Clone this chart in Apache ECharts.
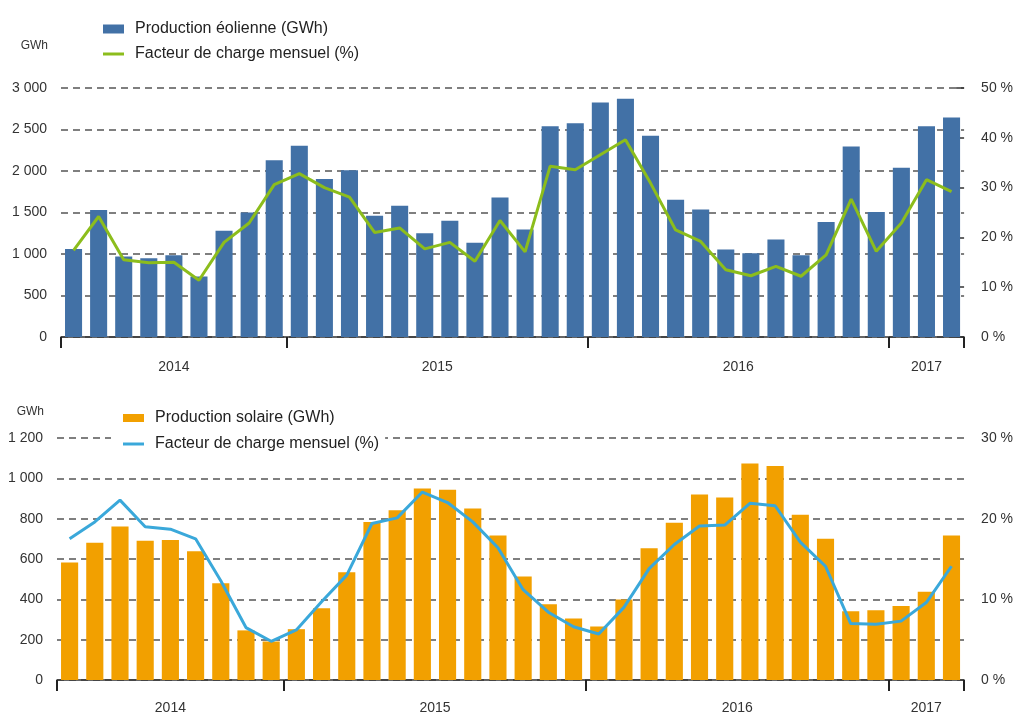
<!DOCTYPE html>
<html>
<head>
<meta charset="utf-8">
<script src="https://cdn.jsdelivr.net/npm/echarts@6/dist/echarts.min.js"></script>
<style>
  html, body { margin: 0; padding: 0; background: #fff; }
  #main { width: 1016px; height: 715px; }
</style>
</head>
<body>
<div id="main"></div>
<script>
// mois d'avril 2014 à mars 2017
var months = [
  'avr. 2014', 'mai 2014', 'juin 2014', 'juil. 2014', 'août 2014', 'sept. 2014', 'oct. 2014', 'nov. 2014', 'déc. 2014',
  'janv. 2015', 'févr. 2015', 'mars 2015', 'avr. 2015', 'mai 2015', 'juin 2015', 'juil. 2015', 'août 2015', 'sept. 2015', 'oct. 2015', 'nov. 2015', 'déc. 2015',
  'janv. 2016', 'févr. 2016', 'mars 2016', 'avr. 2016', 'mai 2016', 'juin 2016', 'juil. 2016', 'août 2016', 'sept. 2016', 'oct. 2016', 'nov. 2016', 'déc. 2016',
  'janv. 2017', 'févr. 2017', 'mars 2017'
];
var years = ['2014', '2015', '2016', '2017'];
var monthsPerYear = [9, 12, 12, 3];

// production éolienne (GWh) et facteur de charge (%)
var windProd = [1060, 1530, 970, 950, 985, 730, 1280, 1500, 2130, 2305, 1905, 2010,
  1460, 1580, 1250, 1400, 1135, 1680, 1295, 2540, 2575, 2825, 2870, 2425,
  1655, 1535, 1055, 1010, 1175, 985, 1385, 2295, 1505, 2040, 2540, 2645];
var windLoad = [17.4, 24.2, 15.5, 14.9, 15.0, 11.4, 19.0, 22.9, 30.6, 32.8, 30.0, 28.1,
  21.0, 21.9, 17.7, 19.0, 15.2, 23.4, 17.1, 34.3, 33.6, 36.6, 39.6, 30.9,
  21.5, 19.2, 13.5, 12.3, 14.2, 12.2, 16.5, 27.7, 17.2, 22.9, 31.6, 29.2];

// production solaire (GWh) et facteur de charge (%)
var solarProd = [583, 681, 761, 690, 694, 638, 480, 246, 191, 252, 356, 534,
  783, 842, 949, 944, 850, 717, 513, 376, 305, 265, 399, 653,
  780, 920, 905, 1073, 1061, 819, 700, 341, 346, 367, 438, 717];
var solarLoad = [17.5, 19.6, 22.3, 19.0, 18.7, 17.5, 12.3, 6.5, 4.8, 6.2, 9.7, 13.0,
  19.4, 20.1, 23.3, 22.0, 19.6, 16.4, 11.2, 8.4, 6.6, 5.7, 9.0, 13.8,
  16.8, 19.1, 19.2, 21.9, 21.6, 17.1, 14.1, 7.0, 6.9, 7.3, 9.6, 14.1];

var legendNames = {
  windBar: 'Production éolienne (GWh)',
  windLine: 'Facteur de charge mensuel (%)',
  solarBar: 'Production solaire (GWh)',
  solarLine: 'Facteur de charge mensuel (%)'
};

// limites des années et milieux pour les libellés
var yearBounds = [0];
var yearMids = [];
for (var i = 0; i < monthsPerYear.length; i++) {
  var start = yearBounds[yearBounds.length - 1];
  yearMids.push(start + monthsPerYear[i] / 2);
  yearBounds.push(start + monthsPerYear[i]);
}

var FONT = 'Liberation Sans';
var TXT = '#333';
var LINE_ICON = 'path://M0 0H21V3H0Z';

function gwh(v) {
  if (v >= 1000) {
    var r = String(v % 1000);
    while (r.length < 3) r = '0' + r;
    return Math.floor(v / 1000) + ' ' + r;
  }
  return String(v);
}

function catAxis(g) {
  return {
    type: 'category',
    gridIndex: g,
    position: 'bottom',
    data: months,
    axisLine: { lineStyle: { color: '#333', width: 1.5 } },
    axisTick: { interval: 0, length: 7, lineStyle: { color: '#333', width: 1.2 } },
    axisLabel: { show: false },
    splitLine: { show: false }
  };
}

function yearAxis(g, margin) {
  return {
    type: 'value',
    gridIndex: g,
    position: 'bottom',
    min: 0,
    max: months.length,
    axisLine: { show: false },
    splitLine: { show: false },
    axisTick: {
      show: true,
      customValues: yearBounds,
      length: 11,
      lineStyle: { color: '#222', width: 2 }
    },
    axisLabel: {
      customValues: yearMids,
      margin: margin,
      fontFamily: FONT,
      fontSize: 14,
      color: TXT,
      formatter: function (v) {
        var k = yearMids.indexOf(v);
        return k >= 0 ? years[k] : '';
      }
    }
  };
}

function leftAxis(g, max, interval, nameGap) {
  return {
    type: 'value',
    gridIndex: g,
    position: 'left',
    min: 0,
    max: max,
    interval: interval,
    name: 'GWh',
    nameLocation: 'end',
    nameGap: nameGap,
    nameTextStyle: { fontFamily: FONT, fontSize: 12, color: TXT, align: 'right', padding: [0, 13, 0, 0] },
    axisLine: { show: false },
    axisTick: { show: false },
    axisLabel: { margin: 14, fontFamily: FONT, fontSize: 14, color: TXT, formatter: gwh },
    splitLine: { lineStyle: { color: '#555', width: 1.5, type: [7, 5] } }
  };
}

function rightAxis(g, max, ticks) {
  return {
    type: 'value',
    gridIndex: g,
    position: 'right',
    min: 0,
    max: max,
    interval: 10,
    axisLine: { show: false },
    axisTick: { show: ticks, inside: true, length: 8, lineStyle: { color: '#333', width: 1.5 } },
    axisLabel: {
      margin: 17,
      fontFamily: FONT,
      fontSize: 14,
      color: TXT,
      formatter: function (v) { return v + ' %'; }
    },
    splitLine: { show: false }
  };
}

var myChart = echarts.init(document.getElementById('main'));

var option = {
  backgroundColor: '#fff',
  animation: false,
  grid: [
    { left: 61, right: 48, top: 88, height: 249 },
    { left: 57, right: 49, top: 438, height: 243 }
  ],
  legend: [
    {
      orient: 'vertical',
      left: 103,
      top: 21,
      padding: 0,
      itemWidth: 21,
      itemHeight: 9,
      itemGap: 9,
      data: [
        { name: 'windBar', icon: 'rect' },
        { name: 'windLine', icon: LINE_ICON }
      ],
      formatter: function (n) { return legendNames[n]; },
      textStyle: { fontFamily: FONT, fontSize: 16, lineHeight: 16, color: '#222', padding: [0, 0, 0, 6] }
    },
    {
      orient: 'vertical',
      left: 111,
      top: 406,
      padding: [4, 6, 4, 12],
      backgroundColor: '#fff',
      itemWidth: 21,
      itemHeight: 8,
      itemGap: 10,
      data: [
        { name: 'solarBar', icon: 'rect' },
        { name: 'solarLine', icon: LINE_ICON }
      ],
      formatter: function (n) { return legendNames[n]; },
      textStyle: { fontFamily: FONT, fontSize: 16, lineHeight: 16, color: '#222', padding: [0, 0, 0, 6] }
    }
  ],
  xAxis: [catAxis(0), yearAxis(0, 23), catAxis(1), yearAxis(1, 21)],
  yAxis: [
    leftAxis(0, 3000, 500, 36),
    rightAxis(0, 50, true),
    leftAxis(1, 1200, 200, 20),
    rightAxis(1, 30, false)
  ],
  series: [
    {
      name: 'windBar',
      type: 'bar',
      xAxisIndex: 0,
      yAxisIndex: 0,
      data: windProd,
      barWidth: '68%',
      itemStyle: { color: '#4271a6' }
    },
    {
      name: 'windLine',
      type: 'line',
      xAxisIndex: 0,
      yAxisIndex: 1,
      data: windLoad,
      symbol: 'none',
      lineStyle: { color: '#8cbd1c', width: 3 },
      itemStyle: { color: '#8cbd1c' },
      z: 3
    },
    {
      name: 'solarBar',
      type: 'bar',
      xAxisIndex: 2,
      yAxisIndex: 2,
      data: solarProd,
      barWidth: '68%',
      itemStyle: { color: '#f2a000' }
    },
    {
      name: 'solarLine',
      type: 'line',
      xAxisIndex: 2,
      yAxisIndex: 3,
      data: solarLoad,
      symbol: 'none',
      lineStyle: { color: '#3aa8da', width: 3 },
      itemStyle: { color: '#3aa8da' },
      z: 3
    }
  ]
};

myChart.setOption(option);
</script>
</body>
</html>
